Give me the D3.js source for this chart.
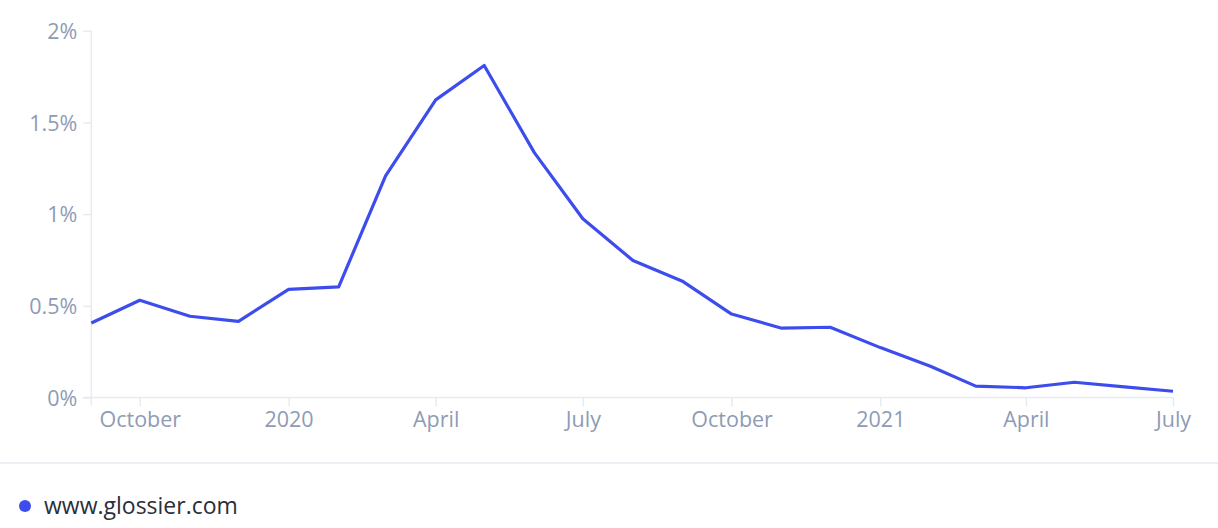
<!DOCTYPE html>
<html>
<head>
<meta charset="utf-8">
<script src="https://cdn.jsdelivr.net/npm/d3@7"></script>
<style>
  html, body { margin: 0; padding: 0; background: #fff; }
  svg { display: block; font-family: "Open Sans", sans-serif; }
</style>
</head>
<body>
<svg id="chart" width="1218" height="528"></svg>
<script>
const months = ["2019-09","2019-10","2019-11","2019-12","2020-01","2020-02","2020-03","2020-04","2020-05","2020-06","2020-07","2020-08","2020-09","2020-10","2020-11","2020-12","2021-01","2021-02","2021-03","2021-04","2021-05","2021-06","2021-07"];
const values = [0.406,0.53,0.443,0.415,0.59,0.603,1.209,1.623,1.81,1.335,0.975,0.747,0.632,0.455,0.378,0.383,0.272,0.170,0.062,0.053,0.083,0.058,0.034];
const yTicks = [0, 0.5, 1, 1.5, 2];
const yTickLabels = ["0%","0.5%","1%","1.5%","2%"];
const xTickDates = ["2019-10","2020-01","2020-04","2020-07","2020-10","2021-01","2021-04","2021-07"];
const xTickLabels = ["October","2020","April","July","October","2021","April","July"];
const seriesName = "www.glossier.com";

const parse = d3.timeParse("%Y-%m");
const svg = d3.select("#chart");
const axisColor = "#e6ebf2";
const labelColor = "#8e9bb5";
const lineColor = "#3d4ded";

const x = d3.scaleTime().domain([parse(months[0]), parse(months[months.length-1])]).range([91.3, 1173]);
const y = d3.scaleLinear().domain([0, 2]).range([397.5, 30.7]);

// y axis
const yAxis = d3.axisLeft(y).tickValues(yTicks).tickFormat((d,i) => yTickLabels[i]).tickSize(8).tickSizeOuter(0).tickPadding(6);
const gy = svg.append("g").attr("transform", "translate(91.3,0)").call(yAxis);
gy.select(".domain").attr("stroke", axisColor).attr("stroke-width", 1.5).attr("d", `M0,${y(2)}V405`);
gy.selectAll(".tick line").attr("stroke", axisColor).attr("stroke-width", 1.5);
gy.selectAll(".tick text").attr("fill", labelColor).attr("font-size", 21.5).attr("font-family", "Open Sans").attr("dy", "0.36em");

// x axis
const xAxis = d3.axisBottom(x).tickValues(xTickDates.map(parse)).tickFormat((d,i) => xTickLabels[i]).tickSize(9).tickSizeOuter(0).tickPadding(5);
const gx = svg.append("g").attr("transform", `translate(0,${y(0)})`).call(xAxis);
gx.select(".domain").attr("stroke", axisColor).attr("stroke-width", 1.5).attr("d", "M83,0H1173");
gx.selectAll(".tick line").attr("stroke", axisColor).attr("stroke-width", 1.5);
gx.selectAll(".tick text").attr("fill", labelColor).attr("font-size", 21.5).attr("font-family", "Open Sans");

// line
const line = d3.line().x((d,i) => x(parse(months[i]))).y(d => y(d));
svg.append("path").datum(values)
  .attr("fill", "none").attr("stroke", lineColor).attr("stroke-width", 3.2)
  .attr("stroke-linejoin", "round").attr("d", line);

// separator
svg.append("line").attr("x1", 0).attr("x2", 1218).attr("y1", 463).attr("y2", 463)
  .attr("stroke", axisColor).attr("stroke-width", 1.5);

// legend
svg.append("circle").attr("cx", 25).attr("cy", 506).attr("r", 6).attr("fill", lineColor);
svg.append("text").attr("x", 44).attr("y", 514).attr("font-size", 23).attr("fill", "#2a2f3a")
  .attr("font-family", "Open Sans").text(seriesName);
</script>
</body>
</html>
